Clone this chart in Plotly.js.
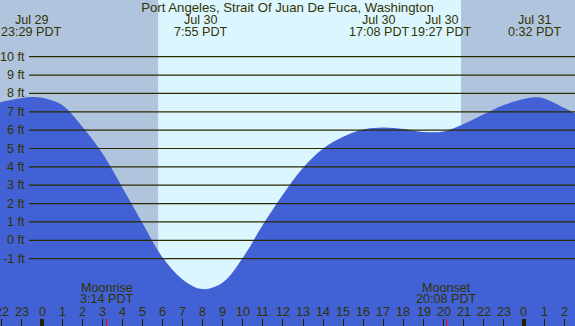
<!DOCTYPE html>
<html><head><meta charset="utf-8">
<script src="https://cdn.plot.ly/plotly-3.0.1.min.js"></script>
<style>html,body{margin:0;padding:0;overflow:hidden;}#chart{width:575px;height:326px;}</style>
</head><body><div id="chart"></div>
<script>
// Hours relative to Jul 30 00:00 PDT
const tideHours = [-2.09, -2, -1, -0.5, 0, 1, 2, 3, 4, 5, 6, 7, 8, 9, 10, 11, 12, 13, 14, 15, 16, 17, 18, 19, 20, 21, 22, 23, 24, 24.5, 25, 26, 26.54];
const tideFeet  = [7.52, 7.54, 7.75, 7.81, 7.76, 7.37, 6.2, 4.75, 2.88, 0.94, -0.93, -2.13, -2.66, -2.3, -0.95, 0.85, 2.5, 3.95, 5.0, 5.64, 6.04, 6.15, 6.06, 5.9, 5.93, 6.33, 6.86, 7.37, 7.69, 7.79, 7.73, 7.22, 6.92];

const hourTicks  = [-2, -1, 0, 1, 2, 3, 4, 5, 6, 7, 8, 9, 10, 11, 12, 13, 14, 15, 16, 17, 18, 19, 20, 21, 22, 23, 24, 25, 26];
const hourLabels = ["22","23","0","1","2","3","4","5","6","7","8","9","10","11","12","13","14","15","16","17","18","19","20","21","22","23","0","1","2"];
const midnightHours = [0, 24];

const levelVals   = [10, 9, 8, 7, 6, 5, 4, 3, 2, 1, 0, -1];
const levelLabels = ["10 ft","9 ft","8 ft","7 ft","6 ft","5 ft","4 ft","3 ft","2 ft","1 ft","0 ft","-1 ft"];

const eventHours = [-0.5167, 7.9167, 17.1333, 19.45, 24.5333];
const eventDates = ["Jul 29", "Jul 30", "Jul 30", "Jul 30", "Jul 31"];
const eventTimes = ["23:29 PDT", "7:55 PDT", "17:08 PDT", "19:27 PDT", "0:32 PDT"];

const moonHours  = [3.2333, 20.1333];
const moonNames  = ["Moonrise", "Moonset"];
const moonTimes  = ["3:14 PDT", "20:08 PDT"];

const sunriseHour = 5.783, sunsetHour = 20.867;

const title = "Port Angeles, Strait Of Juan De Fuca, Washington";

const W = 575, H = 326;
const xr = [-42/20.08, -42/20.08 + W/20.08];
const yr = [-4.67, 13.09];
const txt = "#333300";
const ff = "Liberation Sans, Arial, sans-serif";
const font = {family: ff, size: 12.6, color: txt};
const py = px => 1 - px / H;

const traces = [
  {x: [xr[0]-1, xr[1]+1], y: [-20, -20], mode: "lines", line: {width: 0, color: "#4161d5"}, hoverinfo: "skip", showlegend: false},
  {x: tideHours, y: tideFeet, mode: "lines", line: {shape: "spline", width: 0, color: "#4161d5"}, fill: "tonexty", fillcolor: "#4161d5", hoverinfo: "skip", showlegend: false},
  {x: midnightHours, y: [-20, -20], xaxis: "x2", mode: "markers", marker: {size: 0, opacity: 0}, hoverinfo: "skip", showlegend: false},
  {x: moonHours, y: [-20, -20], xaxis: "x3", mode: "markers", marker: {size: 0, opacity: 0}, hoverinfo: "skip", showlegend: false}
];

const shapes = [
  {type: "rect", xref: "x", yref: "paper", x0: sunriseHour, x1: sunsetHour, y0: 0, y1: 1, fillcolor: "#dcf6ff", line: {width: 0}, layer: "below"}
];
levelVals.forEach(v => shapes.push({type: "line", xref: "paper", yref: "y", x0: 29/W, x1: 1, y0: v, y1: v, line: {color: "#2b2b00", width: 1.2}, layer: "above"}));

const annotations = [];
levelVals.forEach((v, i) => annotations.push({xref: "paper", yref: "y", x: 27/W, y: v, xanchor: "right", yanchor: "middle", text: levelLabels[i], showarrow: false, font: font}));
hourTicks.forEach((h, i) => annotations.push({xref: "x", yref: "paper", x: h, y: py(311.5), xanchor: "center", yanchor: "middle", text: hourLabels[i], showarrow: false, font: font}));
const evShift = [0, 0, -7, 9, 0];
eventHours.forEach((h, i) => {
  annotations.push({xref: "x", yref: "paper", x: h, y: py(20), xshift: evShift[i], xanchor: "center", yanchor: "middle", text: eventDates[i], showarrow: false, font: font});
  annotations.push({xref: "x", yref: "paper", x: h, y: py(32), xshift: evShift[i], xanchor: "center", yanchor: "middle", text: eventTimes[i], showarrow: false, font: font});
});
moonHours.forEach((h, i) => {
  annotations.push({xref: "x", yref: "paper", x: h, y: py(287.5), xanchor: "center", yanchor: "middle", text: moonNames[i], showarrow: false, font: font});
  annotations.push({xref: "x", yref: "paper", x: h, y: py(299), xanchor: "center", yanchor: "middle", text: moonTimes[i], showarrow: false, font: font});
});

const baseAx = {range: xr, showgrid: false, zeroline: false, showline: false, showticklabels: false, ticks: "inside", ticklen: 7.5, fixedrange: true};

const layout = {
  width: W, height: H,
  margin: {l: 0, r: 0, t: 0, b: 0, pad: 0},
  paper_bgcolor: "#b0c4de", plot_bgcolor: "#b0c4de",
  title: {text: title, x: 0.5, xanchor: "center", xref: "paper", y: py(7.5), yanchor: "middle", yref: "container", font: {family: ff, size: 13.2, color: txt}, pad: {t: 0, b: 0}},
  xaxis: Object.assign({}, baseAx, {tickmode: "array", tickvals: hourTicks, tickcolor: "#222200", tickwidth: 1}),
  xaxis2: Object.assign({}, baseAx, {overlaying: "x", anchor: "y", side: "bottom", tickmode: "array", tickvals: midnightHours, tickcolor: "#222200", tickwidth: 3.5}),
  xaxis3: Object.assign({}, baseAx, {overlaying: "x", anchor: "y", side: "bottom", tickmode: "array", tickvals: moonHours, tickcolor: "#ff0000", tickwidth: 1}),
  yaxis: {range: yr, showgrid: false, zeroline: false, showline: false, showticklabels: false, ticks: "", fixedrange: true},
  shapes: shapes,
  annotations: annotations,
  showlegend: false
};

Plotly.newPlot("chart", traces, layout, {displayModeBar: false, staticPlot: true});
</script>
</body></html>
